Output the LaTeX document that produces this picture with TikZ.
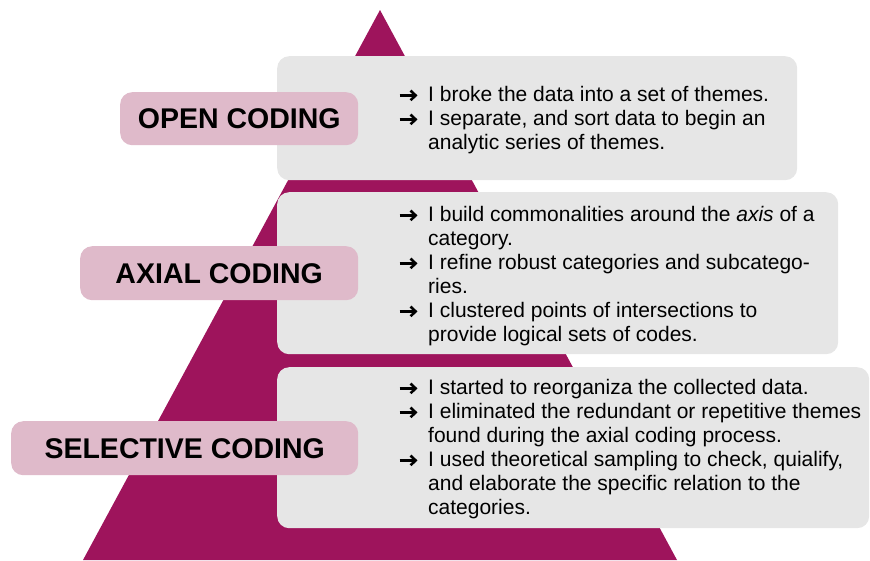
\documentclass[tikz,border=0pt]{standalone}
\usepackage{fontspec}
\setmainfont{Liberation Sans}
\definecolor{plum}{RGB}{158,20,92}
\definecolor{pinklab}{RGB}{223,186,202}
\definecolor{panel}{RGB}{230,230,230}
% heavy arrow bullet drawn as a small inline picture
\newcommand{\bul}{\makebox[30pt][l]{\tikz[baseline=0pt]{%
  \path (0pt,0pt) (19pt,0pt);
  \draw[line width=2.6pt] (0.5pt,5.6pt) -- (16pt,5.6pt);
  \draw[line width=2.6pt, miter limit=4] (11.6pt,10.4pt) -- (16.6pt,5.6pt) -- (11.6pt,0.8pt);}}}
\newcommand{\ind}{\hspace*{30pt}}
\begin{document}
\begin{tikzpicture}[x=1pt,y=-1pt,
  panelbox/.style={fill=panel, rounded corners=12pt, anchor=north west, inner sep=0pt},
  stagelab/.style={fill=pinklab, rounded corners=12pt, anchor=north west, inner sep=0pt,
    font=\bfseries\fontsize{28.5}{30}\selectfont},
  bodytext/.style={anchor=base west, inner sep=0pt, align=left,
    font=\fontsize{21}{24}\selectfont}]
\useasboundingbox (0,0) rectangle (870,560);
% pyramid in the background
\fill[plum] (380,10) -- (83,560) -- (677,560) -- cycle;
% grey panels
\node[panelbox, minimum width=520pt, minimum height=124pt] (p1) at (277,56) {};
\node[panelbox, minimum width=561pt, minimum height=162pt] (p2) at (277,192) {};
\node[panelbox, minimum width=592pt, minimum height=161pt] (p3) at (277,367) {};
% stage labels
\node[stagelab, minimum width=238pt, minimum height=53pt] (l1) at (120,92) {OPEN CODING};
\node[stagelab, minimum width=278pt, minimum height=54pt] (l2) at (80,246) {AXIAL CODING};
\node[stagelab, minimum width=347pt, minimum height=54pt] (l3) at (11,421) {SELECTIVE CODING};
% panel texts (anchored at the baseline of their last line)
\node[bodytext] (t1) at (398,149) {\bul I broke the data into a set of themes.\\
\bul I separate, and sort data to begin an\\
\ind analytic series of themes.};
\node[bodytext] (t2) at (398,341) {\bul I build commonalities around the \textit{axis} of a\\
\ind category.\\
\bul I refine robust categories and subcatego-\\
\ind ries.\\
\bul I clustered points of intersections to\\
\ind provide logical sets of codes.};
\node[bodytext] (t3) at (398,514) {\bul I started to reorganiza the collected data.\\
\bul I eliminated the redundant or repetitive themes\\
\ind found during the axial coding process.\\
\bul I used theoretical sampling to check, quialify,\\
\ind and elaborate the specific relation to the\\
\ind categories.};
\end{tikzpicture}
\end{document}
